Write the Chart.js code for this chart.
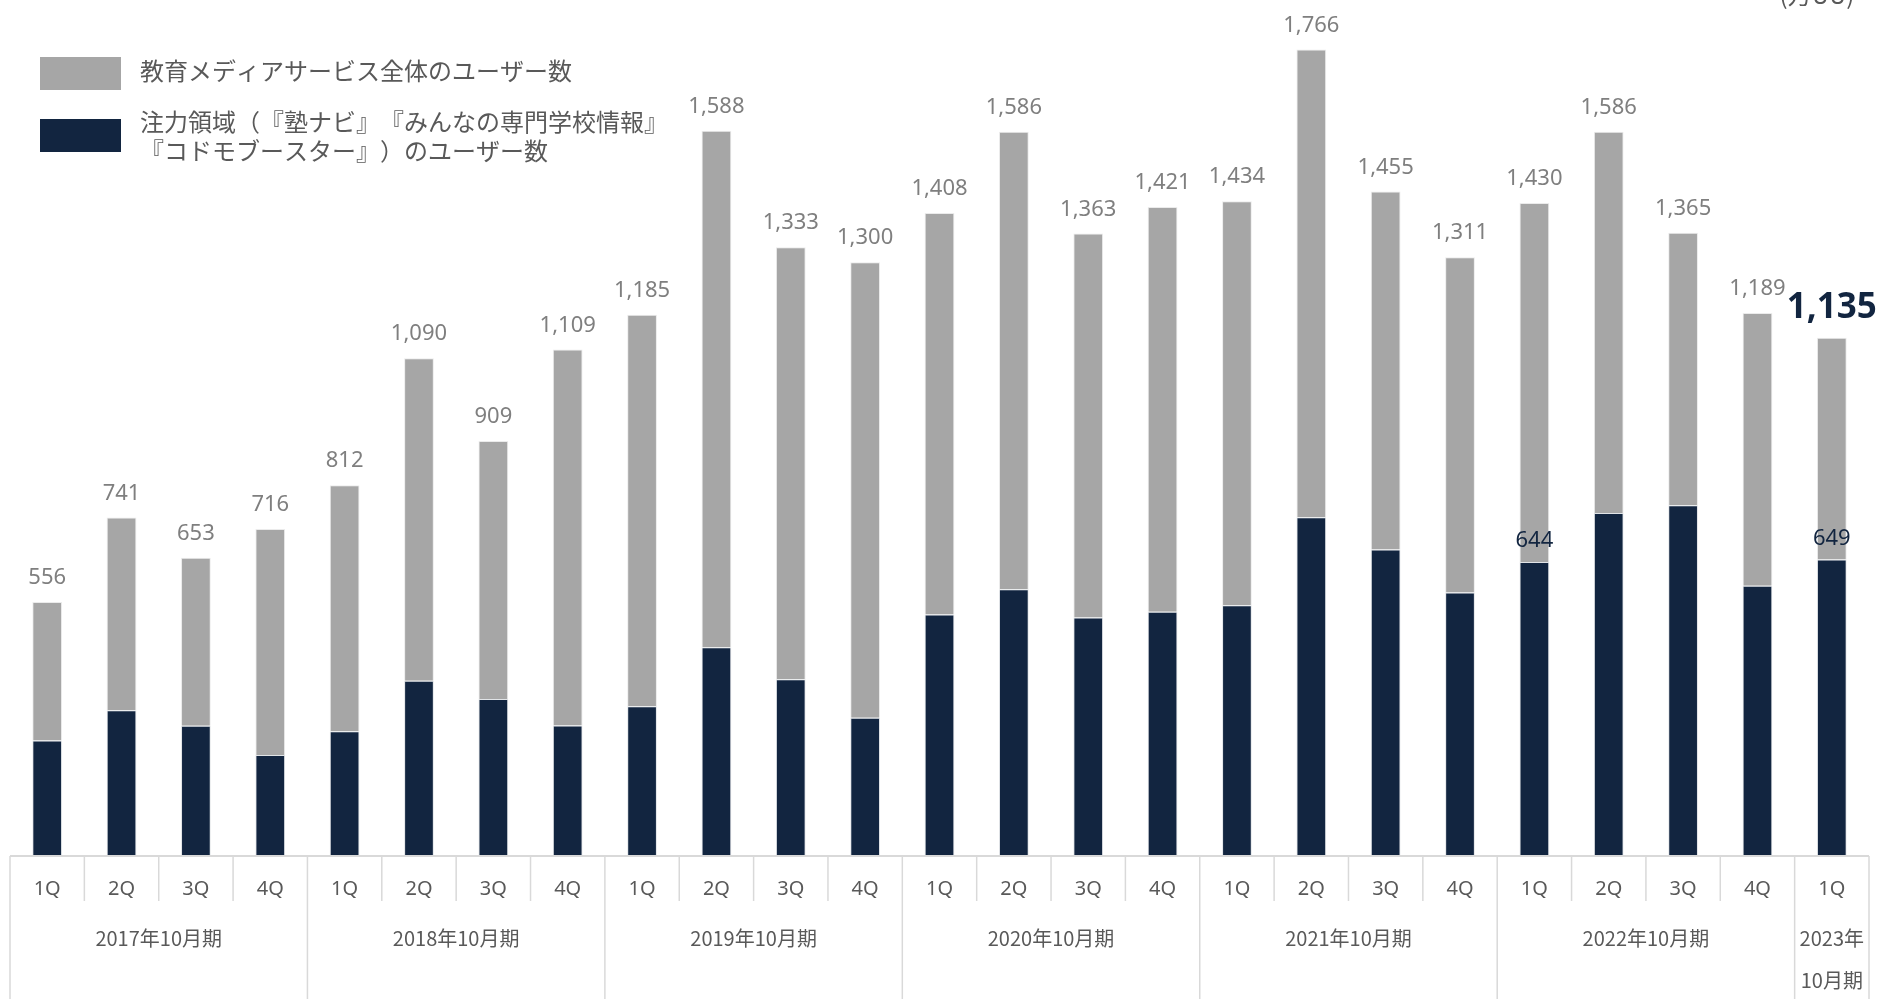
<!DOCTYPE html>
<html lang="ja">
<head>
<meta charset="utf-8">
<title>教育メディアサービス ユーザー数</title>
<script src="https://cdn.jsdelivr.net/npm/chart.js@4.4.0/dist/chart.umd.min.js"></script>
<style>
  html, body { margin: 0; padding: 0; background: #fff; }
  #wrap { width: 1879px; height: 999px; position: relative; }
</style>
</head>
<body>
<div id="wrap"><canvas id="userChart"></canvas></div>
<script>
// quarters on the x axis, grouped by fiscal year (10月期)
const quarters = ['1Q', '2Q', '3Q', '4Q', '1Q', '2Q', '3Q', '4Q', '1Q', '2Q', '3Q', '4Q',
                  '1Q', '2Q', '3Q', '4Q', '1Q', '2Q', '3Q', '4Q', '1Q', '2Q', '3Q', '4Q', '1Q'];
const yearLabels = ['2017年10月期', '2018年10月期', '2019年10月期', '2020年10月期',
                    '2021年10月期', '2022年10月期', '2023年\n10月期'];
const yearSpans = [4, 4, 4, 4, 4, 4, 1];

// 万UU
const totalUsers = [556, 741, 653, 716, 812, 1090, 909, 1109, 1185, 1588, 1333, 1300,
                    1408, 1586, 1363, 1421, 1434, 1766, 1455, 1311, 1430, 1586, 1365, 1189, 1135];
const focusUsers = [253, 319, 285, 221, 273, 384, 344, 286, 328, 457, 387, 303,
                    529, 584, 522, 535, 549, 742, 671, 577, 644, 751, 768, 592, 649];
const focusLabelled = [20, 24];

const seriesNames = ['教育メディアサービス全体のユーザー数',
                     '注力領域（『塾ナビ』『みんなの専門学校情報』\n『コドモブースター』）のユーザー数'];
const unitLabel = '(万UU)';

const NAVY = '#122540';
const GRAY = '#a6a6a6';
const TEXT = '#595959';
const LINE = '#d9d9d9';
const FONT = "'Noto Sans', 'Noto Sans CJK JP', sans-serif";
const JFONT = "'Noto Sans CJK JP', 'Noto Sans', sans-serif";

// gray part sits on top of the navy part
const restUsers = totalUsers.map((t, i) => t - focusUsers[i]);

// draw char by char so the brackets keep their full width
function fillSpaced(ctx, str, x, y) {
    for (const ch of str) {
        ctx.fillText(ch, x, y);
        x += ctx.measureText(ch).width;
    }
}

// value labels above bars
const valueLabels = {
    id: 'valueLabels',
    afterDatasetsDraw(chart) {
        const ctx = chart.ctx;
        const y = chart.scales.y;
        const meta = chart.getDatasetMeta(1);
        ctx.save();
        ctx.textAlign = 'center';
        ctx.textBaseline = 'alphabetic';
        totalUsers.forEach((v, i) => {
            const bx = meta.data[i].x;
            const top = y.getPixelForValue(v);
            if (i === totalUsers.length - 1) {
                ctx.font = 'bold 35px ' + FONT;
                ctx.fillStyle = NAVY;
                ctx.fillText(v.toLocaleString('en-US'), bx, top - 20);
            } else {
                ctx.font = '22px ' + FONT;
                ctx.fillStyle = '#7f7f7f';
                ctx.fillText(v.toLocaleString('en-US'), bx, top - 18);
            }
        });
        ctx.font = '22px ' + FONT;
        ctx.fillStyle = NAVY;
        focusLabelled.forEach(i => {
            const bx = meta.data[i].x;
            ctx.fillText(focusUsers[i].toLocaleString('en-US'), bx, y.getPixelForValue(focusUsers[i]) - 15);
        });
        ctx.restore();
    }
};

// quarter / fiscal year table under the bars, legend and unit
const tableAndLegend = {
    id: 'tableAndLegend',
    afterDraw(chart) {
        const ctx = chart.ctx;
        const area = chart.chartArea;
        const x = chart.scales.x;
        const step = x.getPixelForValue(1) - x.getPixelForValue(0);
        const top = area.bottom;
        const bottom = chart.height;
        ctx.save();

        ctx.strokeStyle = LINE;
        ctx.lineWidth = 2;
        ctx.beginPath();
        ctx.moveTo(area.left, top);
        ctx.lineTo(area.right, top);
        ctx.stroke();

        ctx.lineWidth = 1.5;
        let idx = 0;
        const yearEdges = [0];
        yearSpans.forEach(n => { idx += n; yearEdges.push(idx); });
        for (let i = 0; i <= quarters.length; i++) {
            const px = x.getPixelForValue(i) - step / 2;
            const full = yearEdges.includes(i);
            ctx.beginPath();
            ctx.moveTo(px, top);
            ctx.lineTo(px, full ? bottom : top + 45);
            ctx.stroke();
        }

        ctx.fillStyle = TEXT;
        ctx.textAlign = 'center';
        ctx.textBaseline = 'middle';
        ctx.font = '20px ' + FONT;
        quarters.forEach((q, i) => ctx.fillText(q, x.getPixelForValue(i), top + 33));

        ctx.font = '20px ' + JFONT;
        yearLabels.forEach((lab, k) => {
            const a = x.getPixelForValue(yearEdges[k]) - step / 2;
            const b = x.getPixelForValue(yearEdges[k + 1]) - step / 2;
            lab.split('\n').forEach((line, j) => ctx.fillText(line, (a + b) / 2, top + 82 + j * 42));
        });

        // legend
        const swatches = [GRAY, NAVY];
        const boxY = [57, 119];
        const textY = [[71], [122, 151]];
        ctx.textAlign = 'left';
        ctx.font = '24px ' + JFONT;
        seriesNames.forEach((name, k) => {
            ctx.fillStyle = swatches[k];
            ctx.fillRect(40, boxY[k], 81, 33);
            ctx.fillStyle = TEXT;
            name.split('\n').forEach((line, j) => fillSpaced(ctx, line, 140, textY[k][j]));
        });

        // unit, cut at the top edge as in the slide
        ctx.textAlign = 'center';
        ctx.textBaseline = 'alphabetic';
        ctx.font = '24px ' + JFONT;
        ctx.fillText(unitLabel, 1817, 4);
        ctx.restore();
    }
};

const ctx = document.getElementById('userChart').getContext('2d');
new Chart(ctx, {
    type: 'bar',
    data: {
        labels: quarters,
        datasets: [{
            label: seriesNames[1],
            data: focusUsers,
            backgroundColor: NAVY,
            borderColor: 'rgba(200,205,212,0.55)',
            borderWidth: 1
        }, {
            label: seriesNames[0],
            data: restUsers,
            backgroundColor: GRAY,
            borderColor: 'rgba(230,230,230,0.8)',
            borderWidth: 1
        }]
    },
    options: {
        responsive: true,
        maintainAspectRatio: false,
        animation: false,
        layout: { padding: { left: 10, right: 10, top: 34, bottom: 143 } },
        datasets: { bar: { categoryPercentage: 1, barPercentage: 0.4 } },
        scales: {
            x: { stacked: true, display: false },
            y: { stacked: true, display: false, min: 0, max: 1800 }
        },
        plugins: {
            legend: { display: false },
            tooltip: { enabled: true }
        }
    },
    plugins: [valueLabels, tableAndLegend]
});
</script>
</body>
</html>
